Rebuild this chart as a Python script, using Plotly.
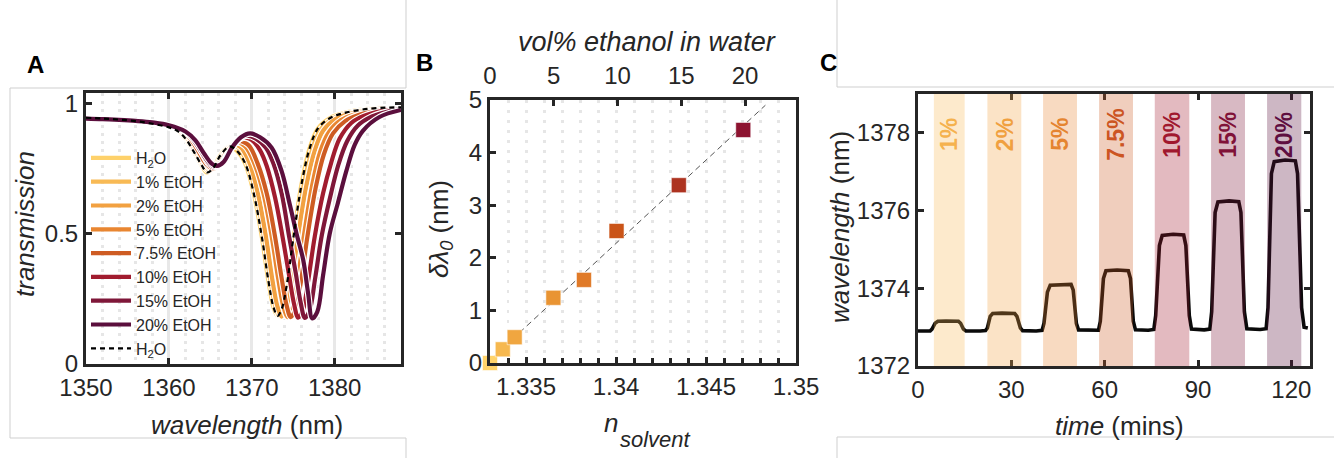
import numpy as np
import plotly.graph_objects as go

W, H = 1334, 458
FONT = "Liberation Sans, Arial, sans-serif"
INK = "#262626"

# ---------------- Panel A: transmission spectra ----------------
A_LABELS = ["H<sub>2</sub>O", "1% EtOH", "2% EtOH", "5% EtOH", "7.5% EtOH",
            "10% EtOH", "15% EtOH", "20% EtOH"]
A_COLORS = ["#FED16A", "#F8BA55", "#F2A141", "#E98631", "#CE5C23",
            "#A11C2F", "#7F1739", "#5B0F3D"]

WL_H2O = [1350, 1352, 1354, 1356, 1358, 1360, 1361, 1362, 1363, 1364, 1364.6, 1365.3, 1366.2, 1367.3,
          1368.2, 1369.2, 1370.2, 1371.2, 1372.0, 1372.6, 1373.1, 1373.6, 1374.2, 1375.0, 1376.0,
          1377.0, 1378.0, 1379.5, 1381.0, 1383.0, 1385.0, 1388.0]
T_H2O = [0.945, 0.942, 0.938, 0.932, 0.922, 0.908, 0.895, 0.865, 0.815, 0.76, 0.735, 0.75, 0.80, 0.835,
         0.818, 0.77, 0.66, 0.49, 0.32, 0.22, 0.185, 0.21, 0.30, 0.48, 0.69,
         0.83, 0.905, 0.945, 0.962, 0.975, 0.982, 0.985]

WL_1 = [1350, 1352, 1354, 1356, 1358, 1360, 1361.1, 1362.1, 1363.1, 1364.1, 1364.8, 1365.5, 1366.4, 1367.5,
        1368.4, 1369.45, 1370.45, 1371.45, 1372.25, 1372.85, 1373.35, 1373.85, 1374.45, 1375.25, 1376.25,
        1377.3, 1378.3, 1379.8, 1381.3, 1383.2, 1385.2, 1388.0]
T_1 = [0.944, 0.941, 0.937, 0.931, 0.922, 0.909, 0.896, 0.867, 0.817, 0.763, 0.74, 0.752, 0.80, 0.838,
       0.83, 0.772, 0.66, 0.49, 0.32, 0.22, 0.183, 0.21, 0.30, 0.48, 0.685,
       0.825, 0.90, 0.942, 0.96, 0.973, 0.98, 0.984]

WL_2 = [1350, 1352, 1354, 1356, 1358, 1360, 1361.2, 1362.2, 1363.2, 1364.2, 1364.95, 1365.65, 1366.6, 1367.7,
        1368.6, 1369.7, 1370.7, 1371.7, 1372.5, 1373.1, 1373.6, 1374.1, 1374.75, 1375.55, 1376.55,
        1377.6, 1378.6, 1380.1, 1381.6, 1383.4, 1385.4, 1388.0]
T_2 = [0.944, 0.941, 0.937, 0.931, 0.923, 0.91, 0.897, 0.868, 0.818, 0.764, 0.744, 0.755, 0.80, 0.84,
       0.834, 0.774, 0.66, 0.49, 0.32, 0.22, 0.182, 0.21, 0.305, 0.485, 0.68,
       0.82, 0.895, 0.94, 0.958, 0.971, 0.979, 0.983]

WL_5 = [1350, 1352, 1354, 1356, 1358, 1360, 1361.4, 1362.4, 1363.4, 1364.4, 1365.2, 1365.9, 1366.9, 1368.1,
        1369.2, 1370.3, 1371.4, 1372.4, 1373.2, 1373.8, 1374.3, 1374.85, 1375.45, 1376.25, 1377.25,
        1378.25, 1379.3, 1380.8, 1382.3, 1384.3, 1386.3, 1388.0]
T_5 = [0.944, 0.941, 0.937, 0.932, 0.924, 0.911, 0.897, 0.868, 0.818, 0.765, 0.748, 0.76, 0.81, 0.85,
       0.835, 0.77, 0.655, 0.49, 0.325, 0.222, 0.18, 0.207, 0.305, 0.485, 0.68,
       0.815, 0.89, 0.937, 0.957, 0.971, 0.978, 0.982]

WL_75 = [1350, 1352, 1354, 1356, 1358, 1360, 1361.5, 1362.5, 1363.5, 1364.5, 1365.35, 1366.1, 1367.1, 1368.4,
         1369.6, 1370.7, 1371.8, 1372.8, 1373.6, 1374.2, 1374.7, 1375.25, 1375.9, 1376.7, 1377.7,
         1378.7, 1379.8, 1381.3, 1382.8, 1384.6, 1386.5, 1388.0]
T_75 = [0.944, 0.941, 0.937, 0.932, 0.925, 0.912, 0.898, 0.869, 0.82, 0.767, 0.75, 0.762, 0.81, 0.855,
        0.84, 0.77, 0.655, 0.49, 0.33, 0.225, 0.18, 0.207, 0.31, 0.487, 0.675,
        0.805, 0.885, 0.933, 0.955, 0.969, 0.977, 0.981]

WL_10 = [1350, 1352, 1354, 1356, 1358, 1360, 1361.7, 1362.8, 1363.8, 1364.8, 1365.5, 1366.2, 1367.2, 1368.2,
         1369.0, 1370.0, 1371.0, 1371.8, 1372.8, 1373.7, 1374.5, 1375.1, 1375.6, 1376.15, 1376.8,
         1377.6, 1378.6, 1379.6, 1380.6, 1382.0, 1383.5, 1385.5, 1388.0]
T_10 = [0.943, 0.94, 0.937, 0.932, 0.926, 0.914, 0.898, 0.868, 0.82, 0.767, 0.754, 0.765, 0.81, 0.855,
        0.868, 0.86, 0.82, 0.76, 0.64, 0.49, 0.34, 0.23, 0.178, 0.205, 0.32,
        0.49, 0.655, 0.775, 0.865, 0.925, 0.952, 0.97, 0.979]

WL_15 = [1350, 1352, 1354, 1356, 1358, 1360, 1361.8, 1362.9, 1363.9, 1364.9, 1365.65, 1366.4, 1367.4, 1368.4,
         1369.4, 1370.5, 1371.7, 1372.6, 1373.6, 1374.5, 1375.3, 1375.9, 1376.4, 1376.95, 1377.65,
         1378.45, 1379.45, 1380.45, 1381.5, 1382.8, 1384.5, 1386.3, 1388.0]
T_15 = [0.943, 0.94, 0.937, 0.933, 0.926, 0.915, 0.895, 0.862, 0.815, 0.77, 0.757, 0.77, 0.82, 0.86,
        0.876, 0.865, 0.83, 0.77, 0.655, 0.49, 0.35, 0.235, 0.177, 0.203, 0.33,
        0.495, 0.64, 0.765, 0.855, 0.915, 0.95, 0.968, 0.977]

WL_20 = [1350, 1352, 1354, 1356, 1358, 1360, 1362, 1363.2, 1364.2, 1365.2, 1365.8, 1366.6, 1367.6, 1368.7,
         1369.8, 1371.0, 1372.4, 1373.6, 1374.6, 1375.4, 1376.2, 1376.8, 1377.3, 1377.9, 1378.6,
         1379.4, 1380.4, 1381.4, 1382.4, 1383.4, 1385.4, 1388.0]
T_20 = [0.942, 0.94, 0.937, 0.933, 0.927, 0.916, 0.892, 0.858, 0.81, 0.768, 0.76, 0.775, 0.83, 0.87,
        0.885, 0.87, 0.83, 0.74, 0.61, 0.50, 0.40, 0.27, 0.175, 0.2, 0.34,
        0.50, 0.62, 0.74, 0.84, 0.895, 0.948, 0.975]

A_X = [WL_H2O, WL_1, WL_2, WL_5, WL_75, WL_10, WL_15, WL_20]
A_Y = [T_H2O, T_1, T_2, T_5, T_75, T_10, T_15, T_20]

# ---------------- Panel B: shift vs refractive index ----------------
B_VOL = [0, 1, 2, 5, 7.5, 10, 15, 20]
B_N = [1.3330, 1.33371, 1.33437, 1.33652, 1.33822, 1.34003, 1.34349, 1.34707]
B_SHIFT = [0.0, 0.26, 0.49, 1.24, 1.58, 2.51, 3.38, 4.43]
B_COLORS = ["#FFD36B", "#F6B84F", "#F0A640", "#E99433", "#E07A28", "#CA5418", "#AD3320", "#8D1330"]
FIT_N = [1.3330, 1.3483]
B_XTICKS = [1.335, 1.34, 1.345, 1.35]
B_XTICKTEXT = ["1.335", "1.34", "1.345", "1.35"]
B_TOPTICKS = [0, 5, 10, 15, 20]

# ---------------- Panel C: time trace ----------------
C_TIME = [0, 2.5, 3.9, 4.5, 5.5, 6.4, 9.0, 13.0, 13.7, 14.6, 15.4,
          20.0, 21.7, 22.3, 23.2, 24.0, 27.0, 31.1, 31.8, 32.9, 33.6,
          38.0, 39.9, 40.5, 41.6, 42.5, 46.0, 49.2, 49.9, 50.9, 51.6,
          56.0, 58.0, 58.6, 59.6, 60.4, 64.0, 67.6, 68.3, 69.2, 69.9,
          74.0, 75.8, 76.4, 77.6, 78.5, 82.0, 85.4, 86.1, 87.2, 87.9,
          92.0, 93.8, 94.4, 95.5, 96.4, 100.0, 103.1, 103.8, 104.9, 105.7,
          110.0, 111.9, 112.5, 113.6, 114.5, 118.0, 121.3, 122.0, 123.3, 124.1, 125.3]
C_WL = [1372.90, 1372.89, 1372.90, 1372.95, 1373.10, 1373.15, 1373.16, 1373.15, 1373.10, 1372.95, 1372.90,
        1372.90, 1372.91, 1372.98, 1373.28, 1373.35, 1373.36, 1373.35, 1373.28, 1372.98, 1372.91,
        1372.90, 1372.92, 1373.10, 1373.90, 1374.08, 1374.10, 1374.10, 1373.95, 1373.10, 1372.93,
        1372.92, 1372.92, 1373.15, 1374.25, 1374.45, 1374.47, 1374.45, 1374.25, 1373.15, 1372.93,
        1372.92, 1372.94, 1373.30, 1375.10, 1375.36, 1375.39, 1375.37, 1375.10, 1373.30, 1372.95,
        1372.93, 1372.95, 1373.40, 1375.95, 1376.22, 1376.25, 1376.23, 1375.95, 1373.40, 1372.96,
        1372.94, 1372.96, 1373.50, 1376.95, 1377.26, 1377.30, 1377.28, 1376.95, 1373.50, 1373.00, 1372.98]
BAND_START = [5.1, 22.3, 40.2, 58.2, 76.1, 94.2, 112.2]
BAND_END = [15.0, 33.2, 51.1, 69.1, 87.2, 105.1, 123.2]
BAND_LABELS = ["1%", "2%", "5%", "7.5%", "10%", "15%", "20%"]
BAND_COLORS = ["#F8BA55", "#F2A141", "#E98631", "#CE5C23", "#A11C2F", "#7F1739", "#5B0F3D"]
LABEL_COLORS = ["#F5B24E", "#F0A040", "#E58430", "#CC5522", "#A0182E", "#801238", "#5E0E40"]


def rgba(hexc, a):
    hexc = hexc.lstrip("#")
    r, g, b = int(hexc[0:2], 16), int(hexc[2:4], 16), int(hexc[4:6], 16)
    return f"rgba({r},{g},{b},{a})"


def px(x):
    return x / W


def py(y):
    return 1 - y / H


fig = go.Figure()

# Panel A traces
for i in range(len(A_LABELS)):
    fig.add_trace(go.Scatter(x=A_X[i], y=A_Y[i], mode="lines", xaxis="x", yaxis="y",
                             line=dict(color="white", width=6.5, shape="spline"),
                             showlegend=False, hoverinfo="skip"))
    fig.add_trace(go.Scatter(x=A_X[i], y=A_Y[i], mode="lines", xaxis="x", yaxis="y",
                             name=A_LABELS[i],
                             line=dict(color=A_COLORS[i], width=4.2, shape="spline")))
fig.add_trace(go.Scatter(x=WL_H2O, y=T_H2O, mode="lines", xaxis="x", yaxis="y",
                         name="H<sub>2</sub>O",
                         line=dict(color="black", width=2.2, dash="5px,4px", shape="spline")))

# Panel B traces
coef = np.polyfit(B_N, B_SHIFT, 1)
fit_y = np.polyval(coef, FIT_N)
fig.add_trace(go.Scatter(x=FIT_N, y=fit_y, mode="lines", xaxis="x2", yaxis="y2",
                         line=dict(color="#555555", width=1, dash="6px,4px"),
                         showlegend=False, hoverinfo="skip"))
fig.add_trace(go.Scatter(x=B_N, y=B_SHIFT, mode="markers", xaxis="x2", yaxis="y2",
                         marker=dict(symbol="square", size=15, color=B_COLORS,
                                     line=dict(color="rgba(255,255,255,0.55)", width=1)),
                         cliponaxis=False, showlegend=False))
# same points on the top (vol%) axis, invisible, so that axis is drawn
fig.add_trace(go.Scatter(x=B_VOL, y=B_SHIFT, mode="markers", xaxis="x4", yaxis="y2",
                         marker=dict(size=1, opacity=0), showlegend=False, hoverinfo="skip"))

# Panel C trace
fig.add_trace(go.Scatter(x=C_TIME, y=C_WL, mode="lines", xaxis="x3", yaxis="y3",
                         line=dict(color="#0a0a0a", width=3.6),
                         showlegend=False))

axis_common = dict(showline=True, linewidth=3, linecolor=INK, ticks="inside", ticklen=6,
                   tickwidth=3, tickcolor=INK, zeroline=False, automargin=False,
                   tickfont=dict(size=24, color=INK, family=FONT))

A_dom_x = [px(86), px(401)]
A_dom_y = [py(364), py(93)]
B_dom_x = [px(490), px(796)]
B_dom_y = [py(363), py(100)]
C_dom_x = [px(918), px(1310)]
C_dom_y = [py(366), py(94)]

layout = dict(
    width=W, height=H, margin=dict(l=0, r=0, t=0, b=0, autoexpand=False),
    paper_bgcolor="white", plot_bgcolor="white",
    font=dict(family=FONT, color=INK),
    xaxis=dict(**axis_common, domain=A_dom_x, anchor="y", range=[1350, 1388],
               tickvals=[1350, 1360, 1370, 1380], mirror="ticks",
               showgrid=True, gridcolor="#E8E8E8", gridwidth=3,
               minor=dict(dtick=2, tick0=1350, showgrid=True, gridcolor="#E6E6E6",
                          gridwidth=3, griddash="3px,5px")),
    yaxis=dict(**axis_common, domain=A_dom_y, anchor="x", range=[0, 1.04],
               tickvals=[0, 0.5, 1], ticktext=["0", "0.5", "1"], mirror="ticks",
               showgrid=False),
    xaxis2=dict(**axis_common, domain=B_dom_x, anchor="y2", range=[1.333, 1.35],
                tickvals=B_XTICKS, ticktext=B_XTICKTEXT, mirror=True,
                showgrid=True, gridcolor="#E6E6E6", gridwidth=3, griddash="3px,7px",
                minor=dict(dtick=0.001, tick0=1.333, ticks="inside", ticklen=5,
                           tickwidth=3, tickcolor=INK, showgrid=True,
                           gridcolor="#E6E6E6", gridwidth=3, griddash="3px,7px")),
    yaxis2=dict(**axis_common, domain=B_dom_y, anchor="x2", range=[0, 5],
                tickvals=[0, 1, 2, 3, 4, 5], mirror=True, showgrid=False),
    xaxis4=dict(ticks="inside", ticklen=6, tickwidth=3, tickcolor=INK, zeroline=False,
                automargin=False, tickfont=dict(size=24, color=INK, family=FONT),
                overlaying="x2", side="top", anchor="y2", range=[0, 24],
                tickvals=B_TOPTICKS, showgrid=False, showline=False,
                ticklabelstandoff=10),
    xaxis3=dict(**axis_common, domain=C_dom_x, anchor="y3", range=[0, 126],
                tickvals=[0, 30, 60, 90, 120], mirror="ticks", showgrid=False),
    yaxis3=dict(**axis_common, domain=C_dom_y, anchor="x3", range=[1372, 1379],
                tickvals=[1372, 1374, 1376, 1378], mirror="ticks", showgrid=False),
    legend=dict(x=px(86), y=py(141), xanchor="left", yanchor="top",
                font=dict(size=16, color=INK, family=FONT),
                bgcolor="rgba(0,0,0,0)", itemwidth=40, tracegroupgap=0),
)
fig.update_layout(**layout)

# Panel C bands (drawn above the trace)
shapes = []
for s, e, c in zip(BAND_START, BAND_END, BAND_COLORS):
    shapes.append(dict(type="rect", xref="x3", yref="y3 domain", x0=s, x1=e, y0=0, y1=1,
                       fillcolor=rgba(c, 0.3), line=dict(width=0), layer="above"))

# light gray composition frame lines
gray = dict(color="#CFCFCF", width=1)
for (x0, y0, x1, y1) in [(10, 88, 406, 88), (10, 88, 10, 438), (10, 438, 406, 438),
                         (406, 0, 406, 88), (406, 438, 406, 458),
                         (837, 87, 1334, 87), (837, 0, 837, 87),
                         (837, 437, 1334, 437), (837, 437, 837, 458)]:
    shapes.append(dict(type="line", xref="paper", yref="paper",
                       x0=px(x0), y0=py(y0), x1=px(x1), y1=py(y1), line=gray, layer="below"))
fig.update_layout(shapes=shapes)

ann = []
for s, e, lab, c in zip(BAND_START, BAND_END, BAND_LABELS, LABEL_COLORS):
    ann.append(dict(x=(s + e) / 2, y=1377.95, xref="x3", yref="y3", text=f"<b>{lab}</b>",
                    textangle=-90, showarrow=False, xanchor="center", yanchor="middle",
                    font=dict(size=23, color=c, family=FONT)))


def txt(x, y, t, size=26, angle=0, color=INK):
    return dict(x=px(x), y=py(y), xref="paper", yref="paper", text=t, showarrow=False,
                xanchor="center", yanchor="middle", textangle=angle,
                font=dict(size=size, color=color, family=FONT))


ann += [
    txt(35, 64, "<b>A</b>", size=24, color="black"),
    txt(424, 63, "<b>B</b>", size=24, color="black"),
    txt(828, 63, "<b>C</b>", size=24, color="black"),
    txt(25, 224, "<i>transmission</i>", angle=-90),
    txt(247, 425, "<i>wavelength</i> (nm)"),
    txt(647, 42, "<i>vol% ethanol in water</i>", size=27),
    txt(440, 229, "<i>δλ</i><sub><i>0</i></sub> (nm)", angle=-90),
    txt(611, 423, "<i>n</i>", size=26),
    txt(655, 439, "<i>solvent</i>", size=22),
    txt(840, 227, "<i>wavelength</i> (nm)", angle=-90),
    txt(1119, 426, "<i>time</i> (mins)"),
]
fig.update_layout(annotations=ann)

fig.write_html("out.html",
               config={"displayModeBar": False},
               post_script="document.body.style.margin='0';document.body.style.overflow='hidden';")
